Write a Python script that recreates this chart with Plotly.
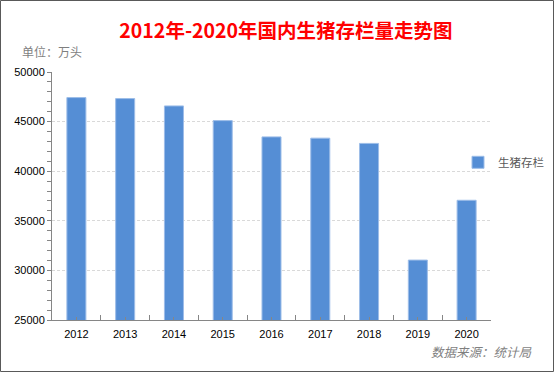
import plotly.graph_objects as go

years = ["2012", "2013", "2014", "2015", "2016", "2017", "2018", "2019", "2020"]
stock = [47420, 47320, 46580, 45100, 43460, 43330, 42800, 31040, 37070]
series_name = "生猪存栏"
title_text = "2012年-2020年国内生猪存栏量走势图"
unit_text = "单位：万头"
source_text = "数据来源：统计局"

idx = list(range(len(years)))

W, H = 554, 372
L, R, T, B = 52, 63, 72, 52
PW, PH = W - L - R, H - T - B

fig = go.Figure()
fig.add_trace(go.Bar(
    x=idx, y=stock, name=series_name, width=0.39,
    marker=dict(color="#558ED5", line=dict(color="#9DBDE8", width=1)),
))

axis_color = "#868686"
fig.update_layout(
    width=W, height=H,
    margin=dict(l=L, r=R, t=T, b=B, autoexpand=False),
    paper_bgcolor="white", plot_bgcolor="white",
    font=dict(family="Liberation Sans, Arial, sans-serif", color="#000000", size=11),
    title=dict(
        text=title_text, x=286 / W, xanchor="center", y=1 - 31.5 / H, yanchor="middle",
        xref="container", yref="container",
        font=dict(family="Noto Sans CJK SC", size=19.5, color="#FF0000", weight="bold"),
    ),
    showlegend=True,
    legend=dict(
        x=(458 - L) / PW, xanchor="left", y=(320 - 162.3) / PH, yanchor="middle",
        font=dict(family="Noto Sans CJK SC", size=11.5, color="#595959"),
        bgcolor="rgba(0,0,0,0)", borderwidth=0,
    ),
    xaxis=dict(
        range=[-0.5, len(years) - 0.5],
        tickmode="array", tickvals=idx, ticktext=years,
        ticks="inside", ticklen=3, tickcolor=axis_color, tickwidth=1,
        minor=dict(tickmode="linear", tick0=-0.5, dtick=1, ticks="inside", ticklen=5,
                   tickcolor=axis_color, tickwidth=1, showgrid=False),
        showline=True, linecolor=axis_color, linewidth=1,
        showgrid=False, zeroline=False, fixedrange=True, ticklabelstandoff=4,
        tickfont=dict(family="Liberation Sans, Arial", size=11, color="#000000"),
    ),
    yaxis=dict(
        range=[25000, 50000], tickmode="linear", tick0=25000, dtick=5000, tickformat="d",
        ticks="outside", ticklen=4, tickcolor=axis_color, tickwidth=1,
        minor=dict(tickmode="linear", tick0=25000, dtick=1000, ticks="outside", ticklen=4,
                   tickcolor=axis_color, tickwidth=1, showgrid=False),
        showline=True, linecolor=axis_color, linewidth=1,
        showgrid=True, gridcolor="#D9D9D9", griddash="3px,2px", gridwidth=1,
        zeroline=False, fixedrange=True,
        tickfont=dict(family="Liberation Sans, Arial", size=11, color="#000000"),
    ),
)

fig.add_annotation(
    text=unit_text, xref="paper", yref="paper",
    x=(20 - L) / PW, xanchor="left", y=(T + PH - 51.7) / PH, yanchor="middle",
    showarrow=False, font=dict(family="Noto Sans CJK SC", size=12, color="#7F7F7F"),
)
fig.add_annotation(
    text="<i>" + source_text + "</i>", xref="paper", yref="paper",
    x=(534 - L) / PW, xanchor="right", y=(T + PH - 351.7) / PH, yanchor="middle",
    showarrow=False, font=dict(family="Noto Sans CJK SC", size=12.5, color="#7F7F7F"),
)

# outer frame of the chart
fig.add_shape(
    type="rect", xref="paper", yref="paper",
    xsizemode="pixel", ysizemode="pixel", xanchor=0, yanchor=0,
    x0=-L + 0.5, x1=W - L - 0.5, y0=-(B - 0.5), y1=T + PH - 0.5,
    line=dict(color="#595959", width=1), fillcolor="rgba(0,0,0,0)", layer="above",
)

fig.write_html(
    "out.html",
    config={"displayModeBar": False},
    post_script="document.body.style.margin='0';document.body.style.padding='0';",
)
